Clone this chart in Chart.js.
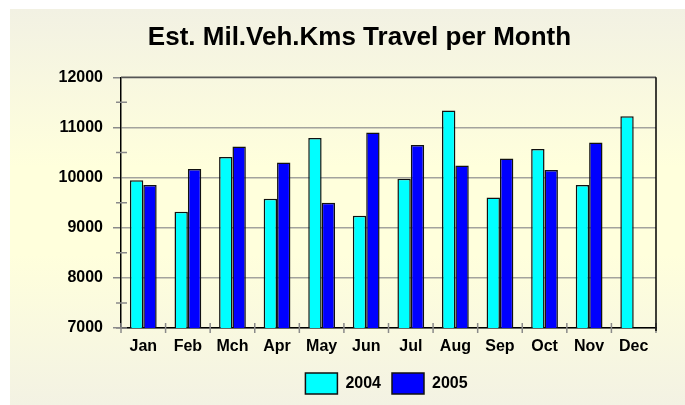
<!DOCTYPE html>
<html>
<head>
<meta charset="utf-8">
<script src="https://cdn.jsdelivr.net/npm/chart.js@4.4.1/dist/chart.umd.min.js"></script>
<style>
  body { margin: 0; background: #ffffff; }
  #myChart { display: block; }
</style>
</head>
<body>
<canvas id="myChart" width="685" height="405"></canvas>
<script>
var mesi = ['Jan', 'Feb', 'Mch', 'Apr', 'May', 'Jun', 'Jul', 'Aug', 'Sep', 'Oct', 'Nov', 'Dec']
var anno2004 = [9945, 9320, 10410, 9580, 10790, 9240, 9975, 11340, 9605, 10570, 9850, 11225]
var anno2005 = [9850, 10170, 10620, 10300, 9500, 10900, 10650, 10240, 10380, 10150, 10700, null]
var yTicks = [7000, 8000, 9000, 10000, 11000, 12000]

var font = 'Liberation Sans, Arial, sans-serif'

// sfondo crema con sfumatura
const sfondo = {
  id: 'sfondo',
  beforeDraw(chart) {
    const c = chart.ctx
    const g = c.createLinearGradient(0, 9, 0, 405)
    g.addColorStop(0, '#f2f1e3')
    g.addColorStop(0.4, '#ffffdc')
    g.addColorStop(0.62, '#ffffdc')
    g.addColorStop(1, '#f3f2e3')
    c.save()
    c.fillStyle = g
    c.fillRect(10, 9, chart.width - 10, chart.height - 9)
    c.restore()
  }
}

// sposta titolo e legenda come nell'originale
const posizioni = {
  id: 'posizioni',
  afterLayout(chart) {
    const t = chart.titleBlock
    const dxT = 359.5 - (t.left + t.right) / 2
    t.left += dxT; t.right += dxT
    const l = chart.legend
    const dxL = 386.5 - (l.left + l.right) / 2
    l.left += dxL; l.right += dxL
    const dyL = 362 - l.top
    l.top += dyL; l.bottom += dyL
  }
}

// tacche piccole e bordo del grafico
const tacche = {
  id: 'tacche',
  afterDatasetsDraw(chart) {
    const c = chart.ctx
    const a = chart.chartArea
    const y = chart.scales.y
    const x = chart.scales.x
    c.save()
    c.strokeStyle = '#8a8a8a'
    c.lineWidth = 1.5
    c.beginPath()
    for (var v = 7000; v < 12000; v += 500) {
      if (v % 1000 === 0 && v !== 7000) continue
      var py = y.getPixelForValue(v)
      c.moveTo(a.left - 5, py); c.lineTo(a.left + 6, py)
    }
    for (var i = 0; i <= mesi.length; i++) {
      var px = x.getPixelForValue(i - 0.5)
      c.moveTo(px, a.bottom - 5); c.lineTo(px, a.bottom + 5)
    }
    c.stroke()
    c.strokeStyle = '#555555'
    c.beginPath()
    c.moveTo(a.left, a.top); c.lineTo(a.right, a.top)
    c.stroke()
    c.strokeStyle = '#000000'
    c.beginPath()
    c.moveTo(a.right, a.top); c.lineTo(a.right, a.bottom + 3)
    c.stroke()
    c.restore()
  }
}

const data = {
  labels: mesi,
  datasets: [{
    label: '2004',
    data: anno2004,
    backgroundColor: '#00ffff',
    borderColor: '#111111',
    borderWidth: 1.5,
    borderSkipped: false,
    categoryPercentage: 0.6,
    barPercentage: 1.0
  }, {
    label: '2005',
    data: anno2005,
    backgroundColor: '#0000ff',
    borderColor: '#111111',
    borderWidth: 1.5,
    borderSkipped: false,
    categoryPercentage: 0.6,
    barPercentage: 1.0
  }]
}

const ctx = document.getElementById('myChart')

new Chart(ctx, {
  type: 'bar',
  data: data,
  plugins: [sfondo, posizioni, tacche],
  options: {
    responsive: false,
    animation: false,
    devicePixelRatio: 1,
    layout: { padding: { left: 10, right: 29, top: 0, bottom: 0 } },
    plugins: {
      title: {
        display: true,
        text: 'Est. Mil.Veh.Kms Travel per Month',
        color: '#000000',
        font: { family: font, size: 26, weight: 'bold' },
        padding: { top: 22.4, bottom: 23.7 }
      },
      legend: {
        position: 'bottom',
        labels: {
          color: '#000000',
          font: { family: font, size: 16, weight: 'bold' },
          boxWidth: 32,
          boxHeight: 21,
          padding: 11
        }
      },
      tooltip: { enabled: false }
    },
    scales: {
      x: {
        grid: { display: false },
        border: { display: true, color: '#000000', width: 1.5 },
        ticks: {
          color: '#000000',
          font: { family: font, size: 16, weight: 'bold' },
          padding: 1
        },
        afterFit(scale) { scale.height = 35 }
      },
      y: {
        min: 7000,
        max: 12000,
        afterBuildTicks(scale) {
          var t = []
          for (var v = 7000; v <= 12000; v += 500) t.push({ value: v })
          scale.ticks = t
        },
        ticks: {
          color: '#000000',
          font: { family: font, size: 16, weight: 'bold' },
          padding: 10,
          callback: function (v) { return yTicks.indexOf(v) >= 0 ? String(v) : '' }
        },
        grid: {
          color: function (c) { return c.tick && c.tick.value % 1000 === 0 ? '#a3a39d' : 'rgba(0,0,0,0)' },
          tickColor: function (c) { return c.tick && c.tick.value % 1000 === 0 ? '#8a8a8a' : 'rgba(0,0,0,0)' },
          lineWidth: 1.5,
          tickLength: 8
        },
        border: { display: true, color: '#000000', width: 1.5 },
        afterFit(scale) { scale.width = 111 }
      }
    }
  }
})
</script>
</body>
</html>
